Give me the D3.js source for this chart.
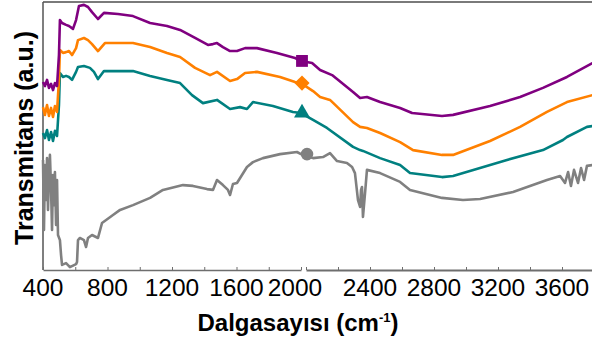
<!DOCTYPE html>
<html>
<head>
<meta charset="utf-8">
<script src="https://cdn.jsdelivr.net/npm/d3@7"></script>
<style>
  body { margin: 0; background: #fff; }
  svg { display: block; font-family: "Liberation Sans", Arial, sans-serif; }
  .axis path, .axis line { stroke: #6e6e6e; }
  .tick-label { font-size: 24.5px; fill: #000; }
  .axis-title { font-size: 24px; font-weight: bold; fill: #000; }
  .spectrum { fill: none; stroke-width: 2.6; stroke-linejoin: round; }
</style>
</head>
<body>
<div id="chart"></div>
<script>
// wavenumber (cm-1), transmittance (a.u., offset per sample)
const purple = [
  [400,70.4],[412,68.9],[425,71.2],[437,68.2],[450,69.7],[462,67.4],[474,70.0],[487,68.9],
  [499,80.5],[505,93.6],[518,92.5],[543,91.8],[561,91.4],[586,90.3],[605,93.6],[623,98.9],
  [654,99.3],[679,98.5],[704,96.6],[741,94.0],[778,96.3],[865,95.9],[958,95.1],[1064,92.5],
  [1169,91.4],[1250,89.9],[1343,86.9],[1423,84.3],[1454,84.6],[1479,85.0],[1516,83.5],
  [1560,82.0],[1603,82.0],[1653,83.1],[1727,83.1],[1851,81.3],[1963,79.4],[2000,78.3],
  [2038,77.5],[2088,74.9],[2163,73.0],[2294,66.7],[2338,64.4],[2381,64.8],[2463,62.9],
  [2588,60.7],[2663,58.8],[2850,57.7],[2919,58.1],[3150,61.4],[3338,64.8],[3481,68.2],
  [3631,72.3],[3790,77.5]
];
const orange = [
  [400,61.0],[412,58.1],[425,61.8],[437,57.7],[450,60.7],[462,57.3],[474,61.4],[487,59.2],
  [499,71.2],[505,82.4],[524,81.3],[543,81.6],[561,82.0],[580,80.5],[605,83.1],[617,86.1],
  [654,86.9],[679,86.1],[704,84.6],[741,82.0],[784,85.0],[958,85.0],[1064,83.5],[1169,81.3],
  [1250,79.8],[1343,75.7],[1436,73.0],[1479,74.2],[1560,70.8],[1603,71.5],[1653,73.8],
  [1727,74.2],[1870,72.3],[1963,70.4],[2000,70.0],
  [2044,67.0],[2088,64.8],[2150,63.7],[2294,55.4],[2338,53.6],[2381,53.2],[2463,51.3],
  [2588,47.9],[2669,44.9],[2850,43.1],[2919,43.1],[3150,48.3],[3338,53.6],[3506,59.2],
  [3631,62.9],[3790,65.5]
];
const teal = [
  [400,51.3],[412,49.4],[425,52.4],[437,48.7],[450,51.7],[462,48.3],[474,52.1],[487,50.2],
  [499,61.8],[505,73.8],[524,72.3],[543,72.7],[561,72.3],[580,71.2],[605,74.2],[617,76.0],
  [654,76.4],[691,75.7],[716,74.2],[741,71.5],[778,74.5],[958,74.5],[1064,72.7],[1169,71.2],
  [1250,70.0],[1324,65.5],[1392,62.5],[1479,63.7],[1560,60.3],[1622,61.0],[1665,60.3],
  [1702,62.9],[1826,61.4],[1950,59.2],[2000,58.8],
  [2044,56.2],[2131,53.2],[2294,46.1],[2338,44.9],[2356,44.6],[2463,41.9],[2588,39.3],
  [2650,36.3],[2850,34.8],[2919,35.2],[3256,41.2],[3481,44.9],[3606,48.7],[3631,49.8],
  [3756,53.6],[3790,53.9]
];
const gray = [
  [400,41.2],[406,15.0],[412,39.3],[419,26.2],[425,41.9],[431,22.5],[437,35.6],[443,43.1],
  [450,30.0],[456,15.0],[462,35.6],[468,24.3],[474,36.7],[481,16.9],[487,33.7],[493,13.1],
  [505,11.2],[512,5.6],[518,1.9],[543,2.6],[567,1.1],[605,2.2],[611,3.0],[617,11.2],
  [629,12.0],[654,11.2],[667,8.6],[679,12.0],[704,13.1],[741,12.0],[766,17.6],[834,20.6],
  [878,22.5],[958,24.3],[1064,27.0],[1144,30.0],[1268,31.8],[1330,31.5],[1417,30.3],
  [1454,30.0],[1479,33.7],[1516,31.8],[1547,30.0],[1560,28.1],[1578,32.2],[1603,32.6],
  [1665,38.6],[1702,40.4],[1764,41.9],[1870,43.4],[1975,44.2],[2000,43.4],
  [2044,41.9],[2106,42.3],[2150,43.8],[2194,40.8],[2256,40.1],[2288,38.6],[2306,36.3],
  [2325,26.2],[2338,23.6],[2344,30.0],[2350,31.1],[2356,19.9],[2369,28.8],[2381,37.5],
  [2463,36.3],[2588,33.0],[2650,30.0],[2850,27.0],[2981,26.2],[3088,26.6],[3294,29.2],
  [3506,33.7],[3588,35.2],[3619,32.6],[3638,36.7],[3656,31.5],[3675,37.5],[3700,32.6],
  [3719,38.2],[3738,33.7],[3756,39.0],[3790,39.3]
];

const seriesColors = ['#808080', '#008080', '#ff8000', '#800080'];
const seriesSymbols = ['circle', 'triangle', 'diamond', 'square'];
const markerWavenumber = 2000;

const leftTicks = [400, 800, 1200, 1600, 2000];
const rightTicks = [2400, 2800, 3200, 3600];
const xTitle = 'Dalgasayısı (cm';
const yTitle = 'Transmitans (a.u.)';

class SpectraChart {
  constructor(_config) {
    this.config = {
      parentElement: _config.parentElement,
      containerWidth: 592,
      containerHeight: 340,
      left: 43,
      top: 2,
      bottom: 270,
      breakLeft: 301,
      breakRight: 306
    };
    this.initVis();
  }

  initVis() {
    let vis = this;
    const c = vis.config;

    vis.svg = d3.select(c.parentElement).append('svg')
        .attr('width', c.containerWidth)
        .attr('height', c.containerHeight);

    // two panels with a small break at 2000
    vis.xLeft = d3.scaleLinear().domain([400, 2000]).range([c.left, c.breakLeft]);
    vis.xRight = d3.scaleLinear().domain([2000, 4000]).range([c.breakRight, c.breakRight + 320]);
    vis.x = d3.scaleLinear()
        .domain([400, 2000, 2000.001, 4000])
        .range([c.left, c.breakLeft, c.breakRight, c.breakRight + 320]);
    vis.y = d3.scaleLinear().domain([0, 100]).range([c.bottom, 3]);

    vis.renderVis();
  }

  renderVis() {
    let vis = this;
    const c = vis.config;

    // frame: top border and left axis
    vis.svg.append('line')
        .attr('x1', c.left).attr('x2', c.containerWidth)
        .attr('y1', c.top).attr('y2', c.top)
        .attr('stroke', '#7a7a7a').attr('stroke-width', 2);
    vis.svg.append('line')
        .attr('x1', c.left).attr('x2', c.left)
        .attr('y1', c.top).attr('y2', c.bottom)
        .attr('stroke', '#555').attr('stroke-width', 1.5);

    const minor = d3.range(400, 2001, 200);
    const minorR = d3.range(2000, 4001, 200);

    const axL = vis.svg.append('g').attr('class', 'axis')
        .attr('transform', `translate(0,${c.bottom})`)
        .call(d3.axisBottom(vis.xLeft).tickValues(minor).tickSize(-3).tickSizeOuter(0).tickFormat(''));
    const axR = vis.svg.append('g').attr('class', 'axis')
        .attr('transform', `translate(0,${c.bottom})`)
        .call(d3.axisBottom(vis.xRight).tickValues(minorR).tickSize(-3).tickSizeOuter(0).tickFormat(''));
    axL.select('.domain').attr('stroke-width', 1.5);
    axR.select('.domain').attr('stroke-width', 2);

    // tick labels
    const labels = leftTicks.map(d => ({v: d, x: d === 2000 ? vis.xLeft(d) - 6 : vis.xLeft(d)}))
        .concat(rightTicks.map(d => ({v: d, x: vis.xRight(d)})));
    vis.svg.selectAll('.tick-label')
        .data(labels)
      .join('text')
        .attr('class', 'tick-label')
        .attr('text-anchor', 'middle')
        .attr('x', d => d.x)
        .attr('y', 296)
        .text(d => d.v);

    // spectra
    const line = d3.line()
        .x(d => vis.x(d[0]))
        .y(d => vis.y(d[1]));
    const data = [gray, teal, orange, purple];

    vis.svg.selectAll('.spectrum')
        .data(data)
      .join('path')
        .attr('class', 'spectrum')
        .attr('stroke', (d, i) => seriesColors[i])
        .attr('d', line);

    // markers at 2000 cm-1
    const symbolType = {
      circle: d3.symbolCircle, triangle: d3.symbolTriangle,
      diamond: d3.symbolSquare, square: d3.symbolSquare
    };
    const symbolSize = {circle: 125, triangle: 110, diamond: 115, square: 140};
    vis.svg.selectAll('.marker')
        .data(data)
      .join('path')
        .attr('class', 'marker')
        .attr('fill', (d, i) => seriesColors[i])
        .attr('d', (d, i) => d3.symbol().type(symbolType[seriesSymbols[i]]).size(symbolSize[seriesSymbols[i]])())
        .attr('transform', (d, i) => {
          const s = seriesSymbols[i];
          const pt = d.find(p => p[0] === markerWavenumber);
          const mx = s === 'circle' ? vis.xRight(markerWavenumber) + 1 : vis.xLeft(markerWavenumber) + 1;
          const rot = s === 'diamond' ? ' rotate(45)' : '';
          return `translate(${mx},${vis.y(pt[1])})${rot}`;
        });

    // axis titles
    const xt = vis.svg.append('text')
        .attr('class', 'axis-title')
        .attr('text-anchor', 'middle')
        .attr('x', 298)
        .attr('y', 331);
    xt.append('tspan').text(xTitle);
    xt.append('tspan').attr('dy', -9).style('font-size', '13px').text('-1');
    xt.append('tspan').attr('dy', 9).text(')');

    vis.svg.append('text')
        .attr('class', 'axis-title')
        .attr('text-anchor', 'middle')
        .style('font-size', '25px')
        .attr('transform', 'translate(33,138) rotate(-90)')
        .text(yTitle);
  }
}

new SpectraChart({parentElement: '#chart'});
</script>
</body>
</html>
